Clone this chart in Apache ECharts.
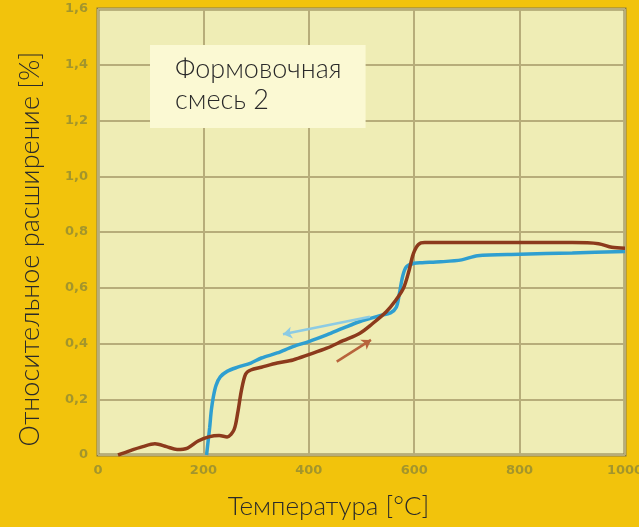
<!DOCTYPE html>
<html>
<head>
<meta charset="utf-8">
<script src="https://cdn.jsdelivr.net/npm/echarts@6/dist/echarts.min.js"></script>
<style>html,body{margin:0;padding:0;background:#f2c30c;}#c{width:639px;height:527px;}</style>
</head>
<body>
<div id="c"></div>
<script>
// Heating curve (brown): [temperature °C, expansion %]
var heatingCurve = [[38,0],[60,0.015],[85,0.03],[108,0.04],[130,0.03],[150,0.02],[170,0.025],[190,0.05],[210,0.065],[230,0.07],[245,0.065],[258,0.09],[265,0.15],[272,0.23],[280,0.29],[290,0.305],[310,0.315],[340,0.33],[370,0.341],[400,0.36],[434,0.383],[465,0.41],[497,0.437],[520,0.47],[547,0.514],[565,0.555],[580,0.6],[590,0.66],[598,0.72],[608,0.755],[620,0.762],[700,0.762],[800,0.762],[900,0.762],[950,0.758],[975,0.745],[1000,0.742]];
// Cooling curve (blue)
var coolingCurve = [[206,0],[209,0.05],[212,0.1],[215,0.16],[219,0.21],[224,0.25],[232,0.28],[245,0.3],[265,0.315],[290,0.33],[310,0.348],[340,0.366],[370,0.389],[400,0.407],[434,0.431],[465,0.455],[497,0.479],[535,0.5],[555,0.51],[566,0.53],[572,0.58],[578,0.64],[585,0.675],[600,0.688],[615,0.69],[650,0.693],[690,0.7],[720,0.715],[800,0.72],[900,0.725],[1000,0.73]];
// Direction arrows
var coolingArrow = [[516,0.496],[351,0.433]];
var heatingArrow = [[453,0.335],[518,0.413]];
var xTicks = {min:0, max:1000, interval:200};
var yTicks = {min:0, max:1.6, interval:0.2};
var titleText = 'Формовочная\nсмесь 2';
var xName = 'Температура [°C]';
var yName = 'Относительное расширение [%]';

var chart = echarts.init(document.getElementById('c'), null, {renderer:'canvas'});
var fontThin = 'Lato, "Open Sans", sans-serif';
chart.setOption({
  backgroundColor:'#f2c30c',
  animation:false,
  title:{
    text:titleText, left:150, top:45,
    backgroundColor:'#fbf9d3',
    padding:[9,24,12,25],
    textStyle:{fontFamily:fontThin, fontWeight:300, fontSize:27, lineHeight:31, color:'#2a2a2a'}
  },
  grid:{left:98, right:14, top:9, bottom:72, show:true, backgroundColor:'#efedb5', borderColor:'#857a48', borderWidth:3, z:0, outerBoundsMode:'none', containLabel:false},
  xAxis:{
    type:'value', min:xTicks.min, max:xTicks.max, interval:xTicks.interval,
    name:xName, nameLocation:'middle', nameGap:39,
    nameTextStyle:{fontFamily:fontThin, fontWeight:300, fontSize:26, color:'#2a2a2a', padding:[0,66,0,0]},
    axisLine:{show:false}, axisTick:{show:false},
    axisLabel:{color:'#a3952c', fontWeight:'bold', fontSize:13, fontFamily:'DejaVu Sans', margin:9,
      formatter:function(v){return String(v);}},
    splitLine:{show:true, lineStyle:{color:'#b7ad7a', width:2}}
  },
  yAxis:{
    type:'value', min:yTicks.min, max:yTicks.max, interval:yTicks.interval,
    name:yName, nameLocation:'middle', nameGap:54, nameRotate:90,
    nameTextStyle:{fontFamily:fontThin, fontWeight:300, fontSize:27, color:'#2a2a2a', padding:[0,34,0,0]},
    axisLine:{show:false}, axisTick:{show:false},
    axisLabel:{color:'#a3952c', fontWeight:'bold', fontSize:13, fontFamily:'DejaVu Sans', margin:10, padding:[10,0,0,0],
      formatter:function(v){return v===0?'0':v.toFixed(1).replace('.',',');}},
    splitLine:{show:true, lineStyle:{color:'#b7ad7a', width:2}}
  },
  series:[
    {type:'line', data:heatingCurve, smooth:0.3, symbol:'none', z:3,
     lineStyle:{color:'#8c3a1c', width:3.5},
     markLine:{silent:true, symbol:['none','arrow'], symbolSize:9, label:{show:false},
       lineStyle:{color:'#b8643c', width:2.5, type:'solid'},
       data:[[{coord:heatingArrow[0]},{coord:heatingArrow[1]}]]}},
    {type:'line', data:coolingCurve, smooth:0.3, symbol:'none', z:2,
     lineStyle:{color:'#2f9fd0', width:3.5},
     markLine:{silent:true, symbol:['none','arrow'], symbolSize:9, label:{show:false},
       lineStyle:{color:'#8ccbe4', width:2.5, type:'solid'},
       data:[[{coord:coolingArrow[0]},{coord:coolingArrow[1]}]]}}
  ]
});
</script>
</body>
</html>
